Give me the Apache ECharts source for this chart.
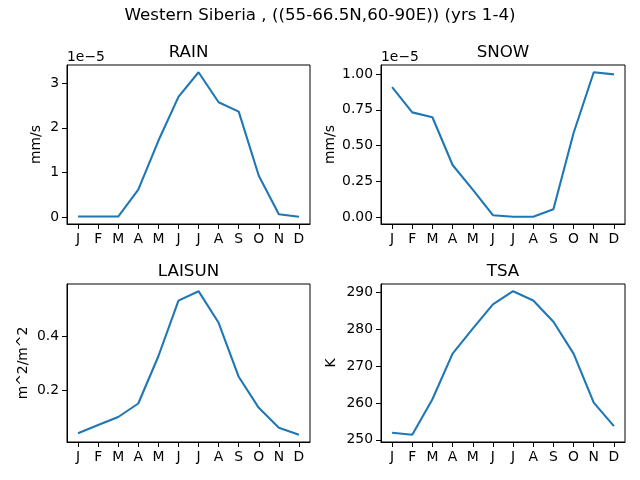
<!DOCTYPE html>
<html>
<head>
<meta charset="utf-8">
<script src="https://cdn.jsdelivr.net/npm/echarts@6/dist/echarts.min.js"></script>
<style>html,body{margin:0;padding:0;background:#fff}#c{width:640px;height:480px}</style>
</head>
<body>
<div id="c"></div>
<script>
const months = ['J','F','M','A','M','J','J','A','S','O','N','D'];
const rain = [0.02e-5,0.02e-5,0.02e-5,0.62e-5,1.71e-5,2.69e-5,3.24e-5,2.57e-5,2.36e-5,0.93e-5,0.07e-5,0.015e-5];
const snow = [0.908e-5,0.732e-5,0.698e-5,0.365e-5,0.193e-5,0.015e-5,0.004e-5,0.004e-5,0.056e-5,0.588e-5,1.012e-5,0.997e-5];
const laisun = [0.042,0.072,0.102,0.152,0.327,0.533,0.568,0.451,0.251,0.136,0.062,0.036];
const tsa = [251.9,251.35,261.0,273.4,280.2,286.75,290.35,287.8,282.05,273.4,260.1,253.7];
const rainTicks = [0,1e-5,2e-5,3e-5];
const snowTicks = [0,0.25e-5,0.5e-5,0.75e-5,1e-5];
const laiTicks = [0.2,0.4];
const tsaTicks = [250,260,270,280,290];
const titles = ['RAIN','SNOW','LAISUN','TSA'];
const units = ['mm/s','mm/s','m^2/m^2','K'];
const suptitle = 'Western Siberia , ((55-66.5N,60-90E)) (yrs 1-4)';

const FONT = 'DejaVu Sans';
const series = [rain, snow, laisun, tsa];
const ticks = [rainTicks, snowTicks, laiTicks, tsaTicks];
const fmts = [
  v => String(Math.round(v*1e5)),
  v => (v*1e5).toFixed(2),
  v => v.toFixed(1),
  v => String(Math.round(v))
];
const grids = [
  {left:67, top:65, width:243, height:159},
  {left:381, top:65, width:244, height:159},
  {left:67, top:284, width:243, height:158},
  {left:381, top:284, width:244, height:158}
];
const nameGaps = [24, 44, 37, 43];

function ext(arr){
  const mn = Math.min(...arr), mx = Math.max(...arr), r = mx - mn;
  return [mn - 0.05*r, mx + 0.05*r];
}
const idx = months.map((m,i)=>i);

const option = {
  animation:false,
  grid: grids.map(g=>Object.assign({show:true, borderColor:'#000', borderWidth:1, backgroundColor:'transparent'}, g)),
  xAxis: grids.map((g,i)=>({
    type:'value', gridIndex:i, min:-0.55, max:11.55,
    splitLine:{show:false},
    axisLine:{show:true, onZero:false, lineStyle:{color:'#000', width:1}},
    axisTick:{show:true, inside:false, length:5, lineStyle:{color:'#000'}, customValues: idx},
    axisLabel:{show:true, margin:8, color:'#000', fontFamily:FONT, fontSize:13.9, customValues: idx,
      formatter: v => months[Math.round(v)]}
  })),
  yAxis: grids.map((g,i)=>{
    const e = ext(series[i]);
    return {
      type:'value', gridIndex:i, min:e[0], max:e[1],
      splitLine:{show:false},
      axisLine:{show:true, onZero:false, lineStyle:{color:'#000', width:1}},
      axisTick:{show:true, inside:false, length:5, lineStyle:{color:'#000'}, customValues: ticks[i]},
      axisLabel:{show:true, margin:8, color:'#000', fontFamily:FONT, fontSize:13.9, customValues: ticks[i], formatter: fmts[i]},
      name: units[i], nameLocation:'middle', nameGap: nameGaps[i], nameRotate:90,
      nameTextStyle:{color:'#000', fontFamily:FONT, fontSize:13.9}
    };
  }),
  series: series.map((arr,i)=>({
    type:'line', xAxisIndex:i, yAxisIndex:i, symbol:'none',
    data: arr.map((v,j)=>[j,v]),
    lineStyle:{color:'#1f77b4', width:2.1}
  })),
  graphic: [
    {type:'text', style:{text:suptitle, x:320, y:16, textAlign:'center', textVerticalAlign:'middle', fontFamily:FONT, fontSize:16.7, fill:'#000'}},
    ...grids.map((g,i)=>({type:'text', style:{text:titles[i], x:g.left+g.width/2, y:g.top-4, textAlign:'center', textVerticalAlign:'bottom', fontFamily:FONT, fontSize:16.7, fill:'#000'}})),
    {type:'text', style:{text:'1e\u22125', x:67, y:64, textAlign:'left', textVerticalAlign:'bottom', fontFamily:FONT, fontSize:13.9, fill:'#000'}},
    {type:'text', style:{text:'1e\u22125', x:381, y:64, textAlign:'left', textVerticalAlign:'bottom', fontFamily:FONT, fontSize:13.9, fill:'#000'}}
  ]
};
echarts.init(document.getElementById('c')).setOption(option);
</script>
</body>
</html>
